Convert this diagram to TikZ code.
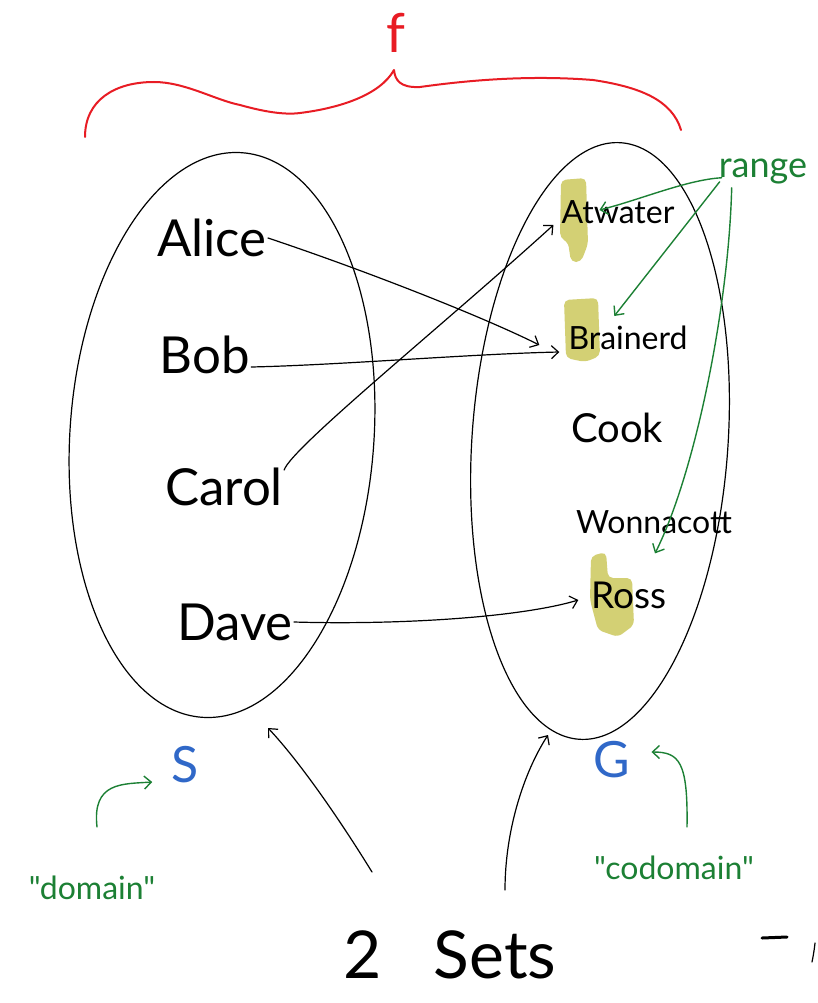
\documentclass[tikz,border=0pt]{standalone}
\usepackage{fontspec}
\setmainfont{Lato}
\newfontfamily\plainlato{Lato}
\usetikzlibrary{arrows.meta,calc}
\definecolor{fred}{RGB}{232,28,36}
\definecolor{fgreen}{RGB}{28,128,52}
\definecolor{fblue}{RGB}{48,104,200}
\definecolor{hl}{RGB}{196,192,70}
\begin{document}
\begin{tikzpicture}[x=1pt,y=-1pt,
  pen/.style={line width=1.2pt,line cap=round,line join=round},
  redpen/.style={pen,draw=fred,line width=2pt},
  greenpen/.style={pen,draw=fgreen,line width=1.4pt},
  arr/.style={-{Straight Barb[length=7pt,width=13pt]}},
  bigname/.style={font=\fontsize{51}{55}\selectfont,inner sep=1pt},
  smallname/.style={font=\fontsize{32}{36}\selectfont,inner sep=1pt},
  note/.style={text=fgreen,font=\plainlato\fontsize{32}{36}\selectfont,inner sep=1pt},
  setname/.style={text=fblue,font=\fontsize{50}{54}\selectfont,inner sep=1pt},
  hlfill/.style={fill=hl,opacity=0.75,rounded corners=5pt}
]
\useasboundingbox (0,0) rectangle (817,1003);

% brace and f
\draw[redpen] (85,137) .. controls (85,100) and (115,82) .. (154,82)
  .. controls (185,82) and (215,100) .. (240,105)
  .. controls (265,112) and (285,115) .. (300,113)
  .. controls (340,108) and (380,95) .. (394,70)
  .. controls (395,80) and (400,88) .. (420,87)
  .. controls (470,80) and (530,75) .. (593,80)
  .. controls (640,87) and (672,100) .. (681,130);
\node[text=fred,font=\fontsize{54}{58}\selectfont,inner sep=0pt] (f) at (396,33) {f};

% sets
\draw[pen] (222,435) ellipse [x radius=152pt, y radius=283pt, rotate=-4];
\draw[pen] (600,441) ellipse [x radius=128pt, y radius=299pt, rotate=-4];

% highlights
\fill[hlfill] (561,180) -- (586,178) -- (588,244) -- (581,262) -- (571,262) -- (568,242) -- (560,238) -- cycle;
\fill[hlfill] (564,300) -- (598,298) -- (600,356) -- (585,362) -- (566,358) -- cycle;
\fill[hlfill] (591,556) -- (606,552) -- (608,578) -- (632,578) -- (634,625) -- (618,637) -- (598,630) -- (590,600) -- cycle;

% domain names
\node[bigname] (alice) at (212,238) {Alice};
\node[bigname] (bob) at (205,355) {Bob};
\node[bigname] (carol) at (224,487) {Carol};
\node[bigname] (dave) at (235,622) {Dave};

% codomain names
\node[smallname] (atwater) at (618,212) {Atwater};
\node[smallname] (brainerd) at (628,338) {Brainerd};
\node[smallname,font=\fontsize{40}{44}\selectfont] (cook) at (617,428) {Cook};
\node[smallname] (wonnacott) at (654,522) {Wonnacott};
\node[smallname,font=\fontsize{37}{40}\selectfont] (ross) at (629,595) {Ross};

% mapping arrows
\draw[pen,arr] (alice.east) .. controls +(90,30) and +(-60,-30) .. ($(brainerd.west)+(-28,7)$);
\draw[pen,arr] ($(bob.east)+(0,12)$) .. controls +(90,-2) and +(-90,2) .. ($(brainerd.west)+(-8,14)$);
\draw[pen,arr] ($(carol.east)+(0,-17)$) .. controls +(7,-22) and +(-110,100) .. ($(atwater.west)+(-7,13)$);
\draw[pen,arr] ($(dave.east)+(0,0)$) .. controls +(100,3) and +(-60,18) .. ($(ross.west)+(-12,5)$);

% labels S and G
\node[setname] (S) at (185,765) {S};
\node[setname] (G) at (612,760) {G};

% range
\node[note,font=\plainlato\fontsize{36}{40}\selectfont] (range) at (763,172) {range};
\draw[greenpen,arr] ($(range.south west)+(4,-8)$) .. controls +(-35,2) and +(40,-10) .. ($(atwater.west)+(39,-2)$);
\draw[greenpen,arr] ($(range.south west)+(2,-4)$) -- ($(brainerd.west)+(47,-22)$);
\draw[greenpen,arr] ($(range.south west)+(14,2)$) .. controls +(-3,120) and +(40,-80) .. ($(ross.north)+(26,-27)$);

% domain / codomain
\node[note] (domain) at (92,888) {"domain"};
\node[note] (codomain) at (674,868) {"codomain"};
\draw[greenpen,arr] ($(domain.north)+(5,-48)$) .. controls +(-5,-45) and +(-30,2) .. ($(S.west)+(-18,17)$);
\draw[greenpen,arr] ($(codomain.north)+(13,-28)$) .. controls +(1,-65) and +(28,0) .. ($(G.east)+(20,-8)$);

% 2 sets
\node[font=\fontsize{66}{70}\selectfont,inner sep=1pt] (sets) at (450,955) {2\hspace{52pt}Sets};
\coordinate (s1) at (372,872);
\coordinate (s2) at (505,890);
\draw[pen,arr] (s1) .. controls (340,820) and (300,762) .. (268,728);
\draw[pen,arr] (s2) .. controls (505,830) and (524,772) .. (548,735);

% stray strokes bottom right
\draw[pen,line width=3pt] (762,938) -- (787,937);
\draw[pen] (815,943) .. controls (814,952) and (813,957) .. (812,962);
\end{tikzpicture}
\end{document}
